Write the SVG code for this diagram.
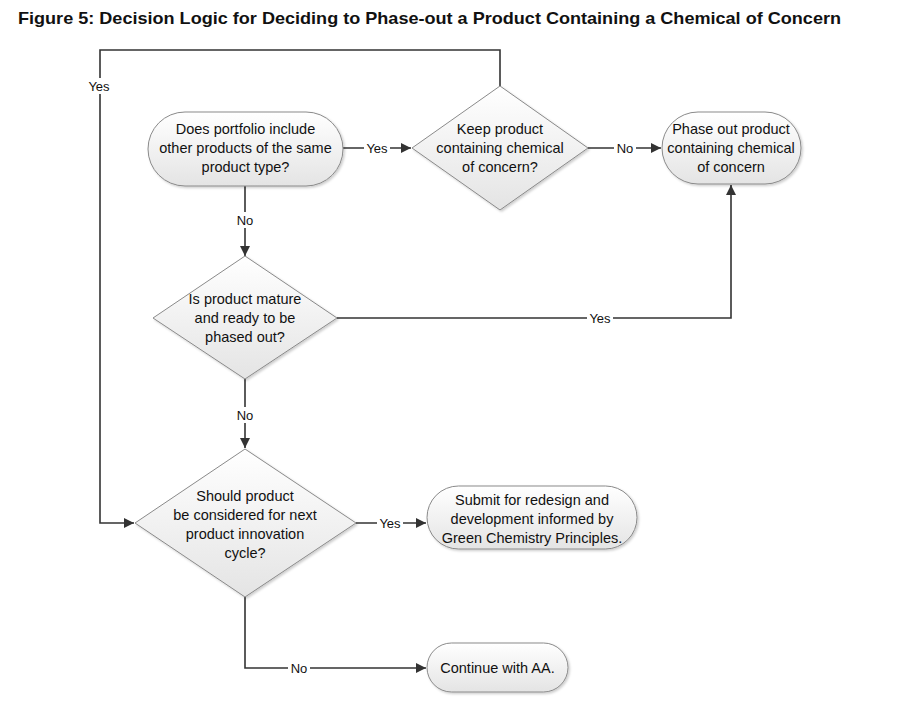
<svg xmlns="http://www.w3.org/2000/svg" width="906" height="722" viewBox="0 0 906 722">
<defs>
<linearGradient id="g" x1="0" y1="0" x2="0" y2="1">
<stop offset="0" stop-color="#ffffff"/>
<stop offset="1" stop-color="#e4e4e4"/>
</linearGradient>
<marker id="ah" viewBox="0 0 10 10" refX="10" refY="5" markerWidth="12" markerHeight="10" markerUnits="userSpaceOnUse" orient="auto">
<path d="M0,0 L10,5 L0,10 z" fill="#333"/>
</marker>
<filter id="sh" x="-10%" y="-10%" width="130%" height="130%">
<feDropShadow dx="1.5" dy="1.5" stdDeviation="1.2" flood-color="#000" flood-opacity="0.2"/>
</filter>
</defs>
<style>
.shape{fill:url(#g);stroke:#8a8a8a;stroke-width:1;filter:url(#sh)}
.t{font-family:"Liberation Sans",Arial,sans-serif;font-size:14.5px;fill:#111;text-anchor:middle}
.c{fill:none;stroke:#333;stroke-width:1.6}
.lbl{font-family:"Liberation Sans",Arial,sans-serif;font-size:13px;fill:#111;text-anchor:middle}
.lb{fill:#fff}
</style>
<rect width="906" height="722" fill="#fff"/>
<text x="18" y="24" font-family="Liberation Sans,Arial,sans-serif" font-weight="bold" font-size="17" fill="#111" textLength="823" lengthAdjust="spacingAndGlyphs">Figure 5: Decision Logic for Deciding to Phase-out a Product Containing a Chemical of Concern</text>

<g id="connectors">
<path class="c" d="M343,148 L411,148" marker-end="url(#ah)"/>
<path class="c" d="M588,148 L661,148" marker-end="url(#ah)"/>
<path class="c" d="M500,86 L500,50 L100,50 L100,523 L134,523" marker-end="url(#ah)"/>
<path class="c" d="M245,186 L245,256" marker-end="url(#ah)"/>
<path class="c" d="M337,318 L731,318 L731,185" marker-end="url(#ah)"/>
<path class="c" d="M245,379 L245,448" marker-end="url(#ah)"/>
<path class="c" d="M356,523 L426,523" marker-end="url(#ah)"/>
<path class="c" d="M245,597 L245,668 L426,668" marker-end="url(#ah)"/>
<rect class="lb" x="364" y="140" width="26" height="16"/>
<text class="lbl" x="377" y="153">Yes</text>
<rect class="lb" x="614" y="140" width="22" height="16"/>
<text class="lbl" x="625" y="153">No</text>
<rect class="lb" x="86" y="78" width="28" height="16"/>
<text class="lbl" x="99" y="91">Yes</text>
<rect class="lb" x="234" y="212" width="22" height="16"/>
<text class="lbl" x="245" y="225">No</text>
<rect class="lb" x="587" y="311" width="26" height="16"/>
<text class="lbl" x="600" y="323">Yes</text>
<rect class="lb" x="234" y="407" width="22" height="16"/>
<text class="lbl" x="245" y="420">No</text>
<rect class="lb" x="377" y="515" width="26" height="16"/>
<text class="lbl" x="390" y="528">Yes</text>
<rect class="lb" x="288" y="661" width="22" height="16"/>
<text class="lbl" x="299" y="673">No</text>
</g>

<g id="n1">
<rect class="shape" x="148" y="112" width="195" height="74" rx="37"/>
<text class="t" x="245.5" y="134">Does portfolio include</text>
<text class="t" x="245.5" y="153">other products of the same</text>
<text class="t" x="245.5" y="172">product type?</text>
</g>
<g id="d1">
<polygon class="shape" points="500,86 588,148 500,210 412,148"/>
<text class="t" x="500" y="134">Keep product</text>
<text class="t" x="500" y="153">containing chemical</text>
<text class="t" x="500" y="172">of concern?</text>
</g>
<g id="n2">
<rect class="shape" x="662" y="112" width="139" height="72" rx="36"/>
<text class="t" x="731" y="134">Phase out product</text>
<text class="t" x="731" y="153">containing chemical</text>
<text class="t" x="731" y="172">of concern</text>
</g>
<g id="d2">
<polygon class="shape" points="245,256 337,318 245,379 153,318"/>
<text class="t" x="245" y="304">Is product mature</text>
<text class="t" x="245" y="323">and ready to be</text>
<text class="t" x="245" y="342">phased out?</text>
</g>
<g id="d3">
<polygon class="shape" points="245,449 356,523 245,597 135,523"/>
<text class="t" x="245" y="501">Should product</text>
<text class="t" x="245" y="520">be considered for next</text>
<text class="t" x="245" y="539">product innovation</text>
<text class="t" x="245" y="558">cycle?</text>
</g>
<g id="n3">
<rect class="shape" x="427" y="486" width="210" height="63" rx="31.5"/>
<text class="t" x="532" y="505">Submit for redesign and</text>
<text class="t" x="532" y="524">development informed by</text>
<text class="t" x="532" y="543">Green Chemistry Principles.</text>
</g>
<g id="n4">
<rect class="shape" x="427" y="643" width="141" height="49" rx="24.5"/>
<text class="t" x="497.5" y="673">Continue with AA.</text>
</g>
</svg>
